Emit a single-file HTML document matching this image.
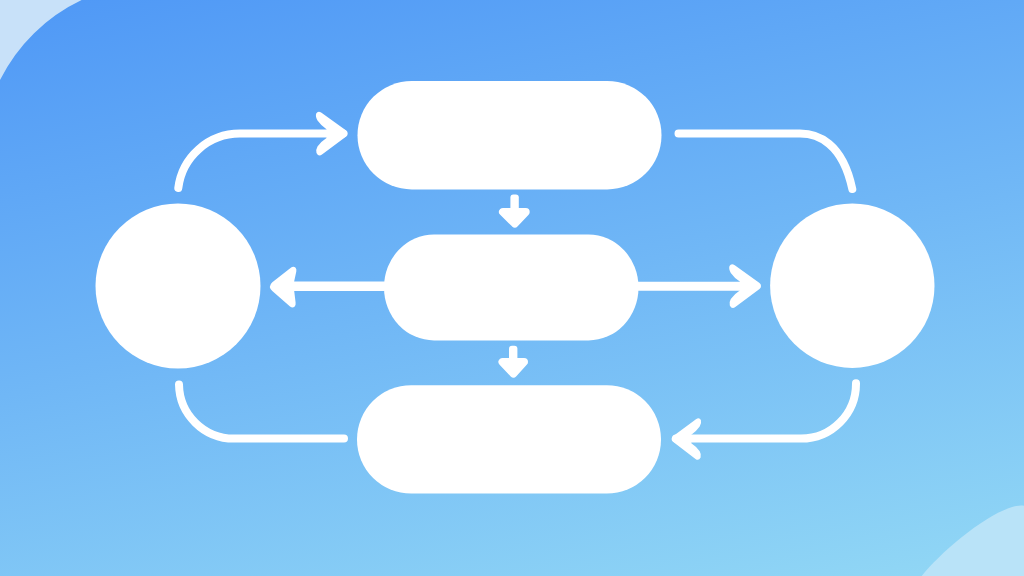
<!DOCTYPE html>
<html>
<head>
<meta charset="utf-8">
<style>
html,body{margin:0;padding:0;}
body{width:1024px;height:576px;overflow:hidden;position:relative;font-family:"Liberation Sans",sans-serif;background:#6cb3f5;}
svg{position:absolute;left:0;top:0;}
</style>
</head>
<body>
<svg width="1024" height="576" viewBox="0 0 1024 576">
  <defs>
    <path id="ah" d="M0 0 Q0 -1.8 -1.5 -3 L-26.2 -20.8 Q-29.7 -23.1 -31.5 -20.1 Q-32.5 -17.1 -30.2 -13.1 Q-26.7 -8.1 -21.2 -4.4 L-21.2 4.4 Q-26.7 7.9 -30.2 12.9 Q-32.2 16.4 -31.2 19.4 Q-29.2 23.4 -25.7 21 L-1.5 3 Q0 1.8 0 0 Z" fill="#fff"/>
    <linearGradient id="bg" x1="0" y1="0" x2="161.5" y2="759" gradientUnits="userSpaceOnUse">
      <stop offset="0" stop-color="#4f98f6"/>
      <stop offset="0.5" stop-color="#70b7f6"/>
      <stop offset="1" stop-color="#92d8f5"/>
    </linearGradient>
  </defs>
  <rect width="1024" height="576" fill="url(#bg)"/>
  <!-- corner blobs -->
  <path d="M0 0 L81.6 0 A175 175 0 0 0 0 80 Z" fill="#c8e1f9"/>
  <path d="M921.7 576 C942 550 1000 502 1024 505.8 L1024 576 Z" fill="#b9e3f8"/>

  <g fill="#fff">
    <!-- pills -->
    <rect x="357.5" y="81" width="304" height="108.4" rx="54.2" ry="54.2"/>
    <rect x="384" y="234.4" width="254.5" height="106" rx="50" ry="53"/>
    <rect x="357" y="385.2" width="304" height="108.4" rx="54.2" ry="54.2"/>
    <!-- circles -->
    <circle cx="178" cy="286" r="82.5"/>
    <circle cx="852.3" cy="285.7" r="82.2"/>
  </g>

  <g fill="none" stroke="#fff" stroke-width="8" stroke-linecap="round" stroke-linejoin="round">
    <!-- top-left connector -->
    <path d="M178.3 188 A62 62 0 0 1 239.8 133.6 L343 133.6"/>
    <!-- top-right connector -->
    <path d="M678.5 133.5 L800 133.5 C817.5 133.5 842.5 142.5 852.3 189"/>
    <!-- bottom-left connector -->
    <path d="M179 384.5 A55 55 0 0 0 234 438.6 L344 438.6"/>
    <!-- bottom-right connector -->
    <path d="M856 383.2 A55 55 0 0 1 801 438.6 L676 438.6"/>
    <!-- middle stems -->
    <path d="M290 286.2 L384 286.2" stroke-width="9.5"/>
    <path d="M638 286.2 L745 286.2" stroke-width="9"/>
  </g>
  <!-- middle-left arrowhead -->
  <path d="M272.3 282.2 L290.5 268 Q293.5 265.8 295.6 267.8 Q296.8 269.2 296.3 271.5 L294.2 281.2 L294.2 291 L295.6 302.5 Q296 305.5 294.5 306.8 Q292.5 308.2 290 306.6 L272.3 291 Q267.5 286.6 272.3 282.2 Z" fill="#fff"/>
  <use href="#ah" transform="translate(347.7 133.6)"/>
  <use href="#ah" transform="translate(761 286)"/>
  <use href="#ah" transform="translate(671.6 439) scale(-0.93 0.95)"/>
  <g fill="#fff" stroke="#fff" stroke-width="8" stroke-linejoin="round">
    <!-- down arrowheads -->
    <rect x="510.4" y="194.4" width="8.4" height="18" rx="3" stroke="none"/>
    <rect x="509" y="345.8" width="8.4" height="16" rx="3" stroke="none"/>
    <path d="M503 211.9 L525.7 211.9 L514.8 223.5 Z"/>
    <path d="M502.5 361.9 L524 361.9 L513.4 373.5 Z"/>
  </g>
</svg>
</body>
</html>
